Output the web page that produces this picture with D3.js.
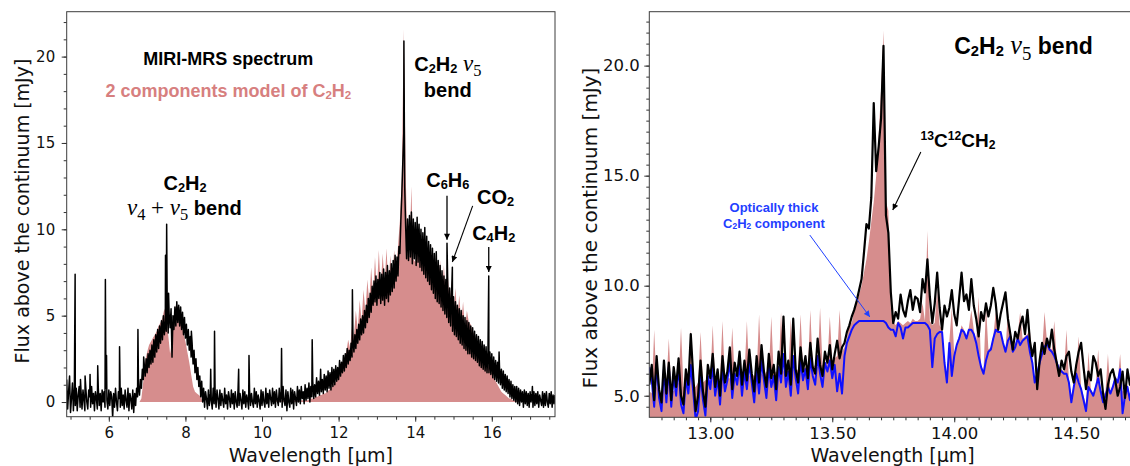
<!DOCTYPE html>
<html>
<head>
<meta charset="utf-8">
<script src="https://cdn.jsdelivr.net/npm/d3@7"></script>
<style>
	html, body { margin: 0; padding: 0; background: #fff; }
	svg { display: block; }
	text { white-space: pre; }
</style>
</head>
<body>
<div id="chart"></div>
<script>
/* global d3 */

// Full MIRI-MRS range: observed flux on a regular grid (start + step), mJy
const obsStart = 4.9;
const obsStep = 0.025;
const fullObserved = [
	1.3, -0.4, 0.6, 1.5, -0.6, 0.2, 1.1, -0.5, 0.9, -0.2,
	0.8, -0.5, 0.4, 0.9, -0.3, 0.6, -0.4, 0.7, 0.1, -0.5,
	0.8, 0.0, -0.4, 0.7, 0.3, -0.3, 0.9, -0.1, 0.5, -0.5,
	0.6, 0.2, -0.4, 0.8, -0.2, 0.5, -0.5, 0.7, 0.0, 0.6,
	-0.3, 0.8, 0.1, -0.4, 0.7, -0.2, 0.6, 0.3, -0.9, 0.5,
	-0.3, 0.8, 0.0, -0.5, 0.6, 0.2, -0.3, 0.8, -0.2, 0.4,
	-0.4, 0.7, 0.1, -0.3, 0.8, -0.5, 0.5, 0.2, -0.4, 0.7,
	-0.6, 0.5, -0.2, 0.8, 0.3, 0.9, 0.4, 1.3, 0.8, 1.9,
	1.3, 2.2, 1.5, 2.5, 1.7, 2.8, 2.0, 3.0, 2.2, 3.3,
	2.3, 3.6, 2.6, 3.9, 2.9, 4.2, 3.1, 4.4, 3.4, 4.7,
	3.6, 5.0, 3.9, 4.7, 4.1, 5.3, 4.0, 5.1, 4.3, 5.4,
	2.6, 5.0, 4.2, 5.5, 4.4, 5.8, 4.6, 5.6, 4.4, 5.5,
	4.2, 5.2, 3.9, 4.9, 3.7, 4.5, 3.3, 4.2, 3.0, 3.8,
	2.6, 3.4, 2.2, 3.0, 1.7, 2.5, 1.3, 2.0, 0.9, 1.5,
	0.3, 1.2, 0.0, 0.8, -0.3, 0.6, 0.2, -0.4, 0.7, -0.2,
	0.5, 0.1, -0.4, 0.8, -0.1, 0.6, -0.3, 0.7, 0.2, -0.4,
	0.7, -0.2, 0.5, 0.1, -0.3, 0.8, -0.1, 0.4, -0.4, 0.6,
	0.2, -0.3, 0.7, -0.1, 0.5, -0.4, 0.6, 0.0, -0.3, 0.8,
	-0.2, 0.5, 0.1, -0.4, 0.7, -0.1, 0.6, -0.3, 0.4, 0.1,
	-0.4, 0.7, -0.2, 0.5, 0.0, -0.3, 0.8, -0.1, 0.6, -0.3,
	0.4, 0.1, -0.4, 0.7, -0.2, 0.6, 0.0, -0.3, 0.8, -0.1,
	0.5, -0.3, 0.7, 0.2, -0.2, 0.8, -0.1, 0.6, -0.3, 0.7,
	0.1, -0.2, 0.8, 0.0, 0.6, -0.3, 0.9, 0.1, -0.2, 0.7,
	-0.5, 0.6, 0.0, -0.3, 0.8, -0.1, 0.7, -0.4, 0.6, 0.2,
	-0.2, 0.9, 0.0, 0.7, -0.1, 0.9, 0.2, 0.6, -0.1, 1.0,
	0.1, 0.8, 0.2, 1.1, 0.0, 0.9, 0.3, 1.2, 0.2, 1.0,
	0.3, 1.4, 0.5, 1.2, 0.4, 1.5, 0.6, 1.3, 0.5, 1.6,
	0.7, 1.5, 0.6, 1.8, 0.8, 1.7, 0.7, 2.0, 0.9, 1.9,
	1.0, 2.1, 1.2, 2.0, 1.3, 2.4, 1.5, 2.3, 1.7, 2.7,
	1.8, 2.8, 2.0, 3.1, 2.2, 3.0, 2.4, 3.4, 2.6, 3.6,
	2.9, 3.9, 3.1, 4.2, 3.4, 4.5, 3.6, 4.8, 3.9, 5.0,
	4.0, 5.3, 4.3, 5.6, 4.6, 6.0, 4.9, 6.3, 5.2, 6.7,
	5.6, 7.0, 5.8, 7.3, 5.6, 7.1, 6.0, 7.5, 5.7, 7.4,
	5.9, 7.7, 5.6, 7.5, 6.0, 7.9, 5.8, 7.6, 6.2, 8.0,
	6.4, 8.2, 6.6, 8.5, 7.0, 8.4, 7.3, 9.0, 8.6, 10.5,
	12.0, 13.8, 15.5, 12.5, 10.2, 8.3, 10.6, 8.2, 10.8, 8.4,
	11.0, 8.0, 10.6, 8.3, 10.4, 7.9, 10.7, 8.1, 10.3, 7.8,
	10.0, 7.6, 9.8, 7.4, 10.1, 7.2, 9.6, 7.0, 9.3, 6.8,
	9.1, 6.5, 8.9, 6.3, 8.6, 6.0, 8.7, 5.8, 8.2, 5.7,
	7.9, 5.5, 7.6, 5.3, 7.3, 5.1, 7.1, 4.9, 6.8, 4.6,
	6.6, 4.4, 6.3, 4.1, 6.1, 3.9, 5.8, 3.8, 5.6, 3.6,
	5.4, 3.4, 5.3, 3.3, 5.0, 3.1, 4.9, 3.0, 4.7, 2.8,
	4.6, 2.8, 4.4, 2.6, 4.3, 2.5, 4.1, 2.4, 3.9, 2.3,
	3.8, 2.1, 3.6, 2.0, 3.5, 1.9, 3.3, 1.8, 3.2, 1.7,
	3.0, 1.7, 2.9, 1.6, 2.8, 1.4, 2.6, 1.3, 2.4, 1.2,
	2.3, 1.1, 2.1, 1.0, 1.9, 0.8, 1.8, 0.7, 1.6, 0.6,
	1.5, 0.5, 1.3, 0.3, 1.2, 0.2, 1.0, 0.1, 0.9, 0.0,
	0.9, -0.1, 0.8, -0.2, 0.7, 0.0, 0.6, -0.3, 0.7, -0.1,
	0.6, -0.2, 0.5, -0.3, 0.6, 0.0, 0.5, -0.3, 0.6, -0.2,
	0.5, -0.1, 0.6, -0.3, 0.4, 0.1, -0.2, 0.6, -0.3, 0.5,
	-0.2, 0.6, 0.0, -0.3, 0.5, -0.1, 0.6, -0.3, 0.4, -0.1,
	0.4,
];

// Full range: 2-component C2H2 model on a coarser grid, mJy
const modelStart = 4.9;
const modelStep = 0.05;
const fullModel = [
	0, 0, 0, 0, 0, 0, 0, 0, 0, 0,
	0, 0, 0, 0, 0, 0, 0, 0, 0, 0,
	0, 0, 0, 0, 0, 0, 0, 0, 0, 0,
	0, 0, 0, 0, 0, 0, 0, 0, 0, 0.2,
	1.2, 2.4, 2.9, 3.3, 3.5, 3.7, 3.9, 4.1, 4.4, 4.6,
	4.9, 5.4, 5.0, 3.9, 2.8, 3.5, 4.8, 5.6, 5.2, 4.9,
	4.5, 4.0, 3.5, 2.9, 2.3, 1.6, 0.9, 0.6, 0.5, 0.4,
	0.3, 0, 0, 0, 0, 0, 0, 0, 0, 0,
	0, 0, 0, 0, 0, 0, 0, 0, 0, 0,
	0, 0, 0, 0, 0, 0, 0, 0, 0, 0,
	0, 0, 0, 0, 0, 0, 0, 0, 0, 0,
	0.1, 0.1, 0.1, 0.1, 0.1, 0.1, 0.1, 0.1, 0.1, 0.1,
	0.1, 0.1, 0.1, 0.1, 0.1, 0.1, 0.1, 0.2, 0.2, 0.2,
	0.3, 0.3, 0.4, 0.4, 0.5, 0.5, 0.6, 0.7, 0.8, 1.0,
	1.1, 1.3, 1.6, 1.9, 2.2, 2.5, 2.9, 3.6, 3.1, 4.4,
	3.8, 5.3, 4.2, 5.9, 4.7, 6.5, 5.2, 7.1, 5.8, 7.8,
	6.2, 8.4, 6.5, 8.8, 6.6, 8.6, 6.8, 8.9, 6.7, 8.5,
	7.0, 8.8, 7.6, 9.0, 10.5, 13.0, 21.6, 13.4, 8.6, 8.4,
	12.5, 8.3, 8.1, 9.6, 8.0, 9.1, 7.9, 8.8, 7.7, 8.5,
	7.2, 9.0, 7.0, 8.5, 6.7, 8.2, 6.3, 7.9, 6.0, 7.5,
	5.6, 7.1, 5.2, 6.6, 4.9, 6.2, 4.6, 5.8, 4.3, 5.3,
	4.6, 4.5, 4.1, 3.9, 3.6, 3.4, 3.1, 2.9, 2.6, 2.4,
	2.2, 1.9, 1.7, 1.4, 1.2, 1.0, 0.8, 0.6, 0.5, 0.4,
	0.3, 0.2, 0.2, 0.1, 0.1, 0.1, 0.05, 0, 0, 0,
	0, 0, 0, 0, 0, 0, 0, 0, 0, 0,
	0, 0, 0, 0, 0, 0,
];

// Narrow emission lines on top of the full spectrum
const lineWaves = [
	5.12, 5.26, 5.38, 5.51, 5.71, 5.91, 5.94, 6.28, 6.76, 6.91,
	7.48, 7.51, 7.56, 8.155, 8.66, 8.76, 9.39, 9.66, 10.51, 11.31,
	11.53, 12.36, 13.705, 14.83, 14.97, 15.92, 16.19, 17.06,
];
const linePeaks = [
	7.4, 1.3, 1.5, 1.6, 2.1, 7.1, 2.7, 3.2, 4.2, 2.6,
	8.5, 10.3, 6.3, 4.1, 1.9, 4.1, 1.9, 2.7, 3.1, 3.6,
	1.9, 6.5, 20.9, 9.2, 7.8, 7.3, 2.9, 0.9,
];

// Zoom on the C2H2 nu5 band
const zoomStart = 12.75;
const zoomStep = 0.01;
const zoomObserved = [
	5.5, 6.4, 4.8, 6.8, 5.3, 4.7, 6.6, 5.1, 6.5, 4.8,
	6.3, 5.4, 6.7, 5.0, 4.6, 6.2, 5.5, 7.8, 5.9, 4.3,
	5.0, 6.6, 5.2, 4.5, 6.4, 5.8, 6.9, 5.4, 6.2, 5.0,
	6.8, 5.6, 6.1, 7.2, 5.3, 6.5, 5.9, 7.0, 5.5, 6.6,
	5.7, 7.1, 6.0, 5.2, 6.8, 5.6, 7.3, 6.1, 5.4, 6.9,
	5.8, 6.4, 5.3, 7.0, 6.0, 8.6, 5.9, 6.6, 5.5, 8.5,
	6.2, 5.6, 7.2, 6.1, 6.8, 5.8, 7.4, 6.3, 6.0, 7.6,
	6.4, 5.9, 7.0, 6.5, 7.3, 6.2, 6.9, 7.5, 6.7, 7.2,
	7.4, 7.9, 8.2, 8.6, 8.9, 9.3, 9.8, 10.3, 11.5, 12.8,
	12.6, 14.0, 18.3, 15.2, 16.3, 17.6, 20.9, 13.2, 12.4, 9.7,
	8.3, 8.8, 8.5, 9.6, 8.9, 8.6, 9.3, 9.8, 8.9, 9.5,
	9.4, 8.8, 10.3, 9.7, 11.2, 9.5, 8.3, 9.2, 10.6, 9.0,
	8.0, 9.1, 8.6, 9.0, 9.8, 8.7, 8.2, 9.4, 10.6, 9.3,
	9.6, 8.9, 10.3, 9.1, 8.5, 7.7, 8.8, 8.4, 9.2, 8.6,
	9.1, 9.9, 9.2, 8.0, 8.7, 9.2, 9.7, 8.5, 7.8, 7.1,
	7.9, 7.6, 8.2, 8.6, 7.8, 8.9, 7.5, 6.8, 7.4, 5.3,
	6.6, 7.4, 6.9, 7.6, 7.2, 8.0, 7.1, 6.5, 5.9, 6.6,
	6.2, 6.8, 7.0, 6.1, 5.6, 6.4, 7.0, 7.4, 6.3, 5.3,
	6.1, 5.7, 6.8, 6.5, 5.9, 6.2, 5.1, 4.4, 5.5, 6.0,
	6.2, 5.7, 5.0, 5.4, 6.1, 4.9, 6.2, 5.5, 6.0, 5.2,
];
const zoomThick = [
	6.3, 5.7, 4.5, 6.5, 4.9, 4.3, 6.2, 4.7, 6.3, 4.5,
	5.9, 5.0, 6.4, 4.6, 4.2, 5.8, 5.1, 6.4, 5.2, 3.9,
	4.3, 6.0, 4.8, 4.1, 5.9, 5.3, 6.4, 5.0, 5.8, 4.6,
	6.3, 5.2, 5.7, 6.6, 4.9, 6.0, 5.5, 6.4, 5.0, 6.1,
	5.3, 6.5, 5.6, 4.7, 6.2, 5.1, 6.6, 5.7, 4.9, 6.3,
	5.4, 5.9, 4.8, 6.3, 5.6, 6.9, 5.4, 6.1, 5.0, 6.8,
	5.8, 5.1, 6.6, 5.7, 6.2, 5.3, 6.7, 5.9, 5.5, 6.8,
	6.0, 5.4, 6.5, 6.1, 6.6, 5.8, 6.4, 5.2, 6.0, 5.1,
	6.8, 7.4, 7.7, 8.0, 8.2, 8.3, 8.4, 8.4, 8.4, 8.4,
	8.4, 8.4, 8.4, 8.4, 8.4, 8.4, 8.4, 8.3, 8.1, 8.0,
	8.0, 7.7, 8.3, 8.1, 7.6, 8.1, 8.1, 8.2, 8.3, 8.3,
	8.3, 8.3, 8.3, 8.3, 8.2, 8.0, 6.3, 7.6, 7.8, 7.9,
	7.9, 6.5, 5.6, 7.4, 5.9, 6.8, 7.3, 7.6, 8.0, 7.9,
	7.6, 8.0, 8.0, 7.8, 7.4, 6.8, 6.3, 6.0, 6.6, 7.0,
	7.1, 7.6, 8.0, 7.9, 7.9, 7.4, 7.0, 7.5, 7.7, 7.0,
	7.2, 7.6, 7.3, 7.5, 7.6, 7.7, 7.0, 6.5, 5.6, 6.0,
	6.5, 6.9, 7.2, 7.4, 7.1, 7.0, 6.8, 6.5, 6.2, 6.1,
	6.0, 6.0, 5.6, 4.7, 5.4, 6.0, 5.6, 5.3, 4.8, 4.3,
	5.4, 5.2, 5.0, 5.4, 5.8, 5.2, 4.7, 5.0, 5.4, 5.1,
	5.4, 5.8, 5.6, 6.2, 4.2, 5.0, 5.4, 4.8, 5.6, 5.0,
];
const zoomModel = [
	5.2, 5.1, 8.0, 5.4, 5.2, 5.1, 5.3, 5.5, 7.6, 5.3,
	5.2, 5.4, 5.6, 8.1, 5.4, 5.5, 5.6, 8.0, 5.5, 5.4,
	5.6, 7.9, 5.6, 5.7, 5.8, 5.7, 8.2, 5.6, 5.7, 5.8,
	8.4, 5.7, 5.8, 5.8, 8.1, 5.9, 5.8, 5.9, 5.8, 5.9,
	8.4, 5.9, 6.0, 5.9, 6.0, 8.7, 6.0, 5.9, 6.1, 6.0,
	8.6, 6.0, 6.1, 6.0, 8.8, 6.1, 6.2, 6.1, 8.5, 6.2,
	6.1, 6.2, 8.7, 6.2, 6.3, 6.2, 8.9, 6.3, 6.4, 6.3,
	9.0, 6.4, 6.5, 6.5, 8.6, 6.6, 6.7, 6.8, 8.9, 7.0,
	7.2, 7.6, 8.4, 8.3, 8.9, 9.2, 9.6, 10.0, 10.6, 11.2,
	12.0, 12.9, 13.8, 15.0, 16.8, 18.9, 21.6, 13.8, 13.4, 9.0,
	8.4, 8.2, 8.4, 8.3, 8.2, 8.3, 8.4, 8.3, 8.5, 8.4,
	8.4, 8.5, 9.2, 8.4, 12.5, 8.4, 8.2, 8.3, 9.8, 8.2,
	8.0, 6.6, 5.7, 7.5, 9.0, 6.9, 7.4, 7.7, 8.2, 8.0,
	7.7, 8.1, 8.9, 8.0, 7.5, 9.5, 6.4, 6.1, 9.1, 7.1,
	7.2, 7.7, 8.8, 8.0, 7.9, 7.5, 7.1, 8.8, 7.8, 7.1,
	7.4, 7.7, 8.8, 7.6, 7.7, 7.8, 8.0, 6.6, 5.8, 6.1,
	6.6, 7.0, 8.8, 7.5, 7.2, 7.1, 8.4, 6.6, 6.3, 6.2,
	6.1, 8.0, 5.7, 5.0, 5.5, 6.1, 7.7, 5.4, 5.0, 4.6,
	7.0, 5.3, 5.1, 5.5, 7.1, 5.3, 5.0, 5.2, 6.9, 5.2,
	5.5, 5.9, 5.7, 6.9, 5.2, 5.2, 5.5, 5.0, 6.9, 5.1,
];

// Tick labels
const leftXTicks = [ 6, 8, 10, 12, 14, 16 ];
const leftYTicks = [ 0, 5, 10, 15, 20 ];
const rightXTicks = [ 13, 13.5, 14, 14.5 ];
const rightYTicks = [ 5, 10, 15, 20 ];

const SANS = "'Liberation Sans', Arial, Helvetica, sans-serif";
const SERIF = "'Liberation Serif', 'Times New Roman', serif";
const AXIS_FONT = "'DejaVu Sans', sans-serif";
const MODEL_FILL = '#d68d8d';
const MODEL_TEXT = '#d77f7f';
const THICK_BLUE = '#1010ff';
const THICK_TEXT = '#1f40ff';

const svg = d3
	.select( '#chart' )
	.append( 'svg' )
	.attr( 'width', 1130 )
	.attr( 'height', 466 );

const defs = svg.append( 'defs' );

// Arrow heads for the annotations
function addMarker( id, color ) {
	defs
		.append( 'marker' )
		.attr( 'id', id )
		.attr( 'viewBox', '0 0 10 10' )
		.attr( 'refX', 10 )
		.attr( 'refY', 5 )
		.attr( 'markerWidth', 7 )
		.attr( 'markerHeight', 6 )
		.attr( 'markerUnits', 'userSpaceOnUse' )
		.attr( 'orient', 'auto' )
		.append( 'path' )
		.attr( 'd', 'M0,0 L10,5 L0,10 Z' )
		.attr( 'fill', color );
}
addMarker( 'head-black', '#000' );
addMarker( 'head-blue', THICK_TEXT );

// Turn a regular grid into {w, f} points
function gridPoints( start, step, values ) {
	return values.map( ( f, i ) => ( { w: start + i * step, f } ) );
}

function makePanel( cfg ) {
	const x = d3.scaleLinear().domain( cfg.xDomain ).range( cfg.xRange );
	const y = d3.scaleLinear().domain( cfg.yDomain ).range( cfg.yRange );
	const g = svg.append( 'g' );

	defs
		.append( 'clipPath' )
		.attr( 'id', `${ cfg.id }-clip` )
		.append( 'rect' )
		.attr( 'x', cfg.xRange[ 0 ] )
		.attr( 'y', cfg.yRange[ 1 ] )
		.attr( 'width', cfg.xRange[ 1 ] - cfg.xRange[ 0 ] )
		.attr( 'height', cfg.yRange[ 0 ] - cfg.yRange[ 1 ] );

	const plot = g.append( 'g' ).attr( 'clip-path', `url(#${ cfg.id }-clip)` );
	return { x, y, g, plot };
}

function drawAxes( panel, opts ) {
	const { x, y, g } = panel;
	const [ x0, x1 ] = x.range();
	const [ yb, yt ] = y.range();
	const noLabel = () => '';
	const clean = ( sel ) => sel.select( '.domain' ).remove();

	// Minor ticks
	g.append( 'g' )
		.attr( 'transform', `translate(0,${ yb })` )
		.call( d3.axisBottom( x ).tickValues( opts.xMinor ).tickSize( 3 ).tickFormat( noLabel ) )
		.call( clean );
	g.append( 'g' )
		.attr( 'transform', `translate(${ x0 },0)` )
		.call( d3.axisLeft( y ).tickValues( opts.yMinor ).tickSize( 3 ).tickFormat( noLabel ) )
		.call( clean );

	// Major ticks with labels
	const xAxis = g.append( 'g' )
		.attr( 'transform', `translate(0,${ yb })` )
		.call( d3.axisBottom( x ).tickValues( opts.xTicks ).tickSize( 5 ).tickPadding( opts.xPad ).tickFormat( opts.xFormat ) )
		.call( clean );
	const yAxis = g.append( 'g' )
		.attr( 'transform', `translate(${ x0 },0)` )
		.call( d3.axisLeft( y ).tickValues( opts.yTicks ).tickSize( 5 ).tickPadding( opts.yPad ).tickFormat( opts.yFormat ) )
		.call( clean );

	[ xAxis, yAxis ].forEach( ( a ) => {
		a.attr( 'font-family', AXIS_FONT ).attr( 'font-size', opts.tickSize );
		a.selectAll( 'text' ).attr( 'fill', '#111' );
	} );
	g.selectAll( '.tick line' ).attr( 'stroke', '#333' );

	// Frame
	g.append( 'rect' )
		.attr( 'x', x0 )
		.attr( 'y', yt )
		.attr( 'width', x1 - x0 )
		.attr( 'height', yb - yt )
		.attr( 'fill', 'none' )
		.attr( 'stroke', '#3c3c3c' )
		.attr( 'stroke-width', 1 );

	// Axis titles
	g.append( 'text' )
		.attr( 'x', opts.xLabelX )
		.attr( 'y', opts.xLabelY )
		.attr( 'text-anchor', 'middle' )
		.attr( 'font-family', AXIS_FONT )
		.attr( 'font-size', opts.labelSize )
		.attr( 'fill', '#111' )
		.text( 'Wavelength [μm]' );
	g.append( 'text' )
		.attr( 'transform', `translate(${ opts.yLabelX },${ opts.yLabelY }) rotate(-90)` )
		.attr( 'text-anchor', 'middle' )
		.attr( 'font-family', AXIS_FONT )
		.attr( 'font-size', opts.yLabelSize || opts.labelSize )
		.attr( 'fill', '#111' )
		.text( 'Flux above the continuum [mJy]' );
}

// Mixed text: bold sans, chemical sub/superscripts, math nu
function richText( parent, px, py, opts, segments ) {
	const size = opts.size;
	const text = parent
		.append( 'text' )
		.attr( 'x', px )
		.attr( 'y', py )
		.attr( 'text-anchor', opts.anchor || 'middle' )
		.attr( 'fill', opts.color || '#000' )
		.attr( 'font-family', SANS )
		.attr( 'font-weight', 'bold' )
		.attr( 'font-size', size );
	let offset = 0;
	segments.forEach( ( seg ) => {
		const s = typeof seg === 'string' ? { t: seg } : seg;
		let shift = 0;
		let fs = size;
		if ( s.sub ) {
			shift = 0.1 * size;
			fs = 0.64 * size;
		}
		if ( s.sup ) {
			shift = -0.36 * size;
			fs = 0.64 * size;
		}
		if ( s.math || s.op ) {
			fs = 1.15 * size;
		}
		if ( s.msub ) {
			shift = 0.25 * size;
			fs = 0.82 * size;
		}
		const span = text
			.append( 'tspan' )
			.attr( 'dy', shift - offset )
			.attr( 'font-size', fs )
			.text( s.t );
		offset = shift;
		if ( s.math || s.msub || s.op ) {
			span.attr( 'font-family', SERIF ).attr( 'font-weight', 'normal' );
		}
		if ( s.math ) {
			span.attr( 'font-style', 'italic' );
		}
	} );
	return text;
}

function arrow( panel, from, to, marker, color, width ) {
	panel.g
		.append( 'line' )
		.attr( 'x1', panel.x( from[ 0 ] ) )
		.attr( 'y1', panel.y( from[ 1 ] ) )
		.attr( 'x2', panel.x( to[ 0 ] ) )
		.attr( 'y2', panel.y( to[ 1 ] ) )
		.attr( 'stroke', color )
		.attr( 'stroke-width', width )
		.attr( 'marker-end', `url(#${ marker })` );
}

/* ---------- Left panel: full spectrum ---------- */
const left = makePanel( {
	id: 'full',
	xDomain: [ 4.9, 17.65 ],
	yDomain: [ -0.85, 22.6 ],
	xRange: [ 66.7, 555 ],
	yRange: [ 416.7, 11.7 ],
} );

const fullModelPts = gridPoints( modelStart, modelStep, fullModel );
const fullObsPts = gridPoints( obsStart, obsStep, fullObserved )
	.concat( lineWaves.map( ( w, i ) => ( { w, f: linePeaks[ i ] } ) ) )
	.sort( ( a, b ) => a.w - b.w );

left.plot
	.append( 'path' )
	.datum( fullModelPts )
	.attr( 'fill', MODEL_FILL )
	.attr( 'd', d3.area().x( ( d ) => left.x( d.w ) ).y0( left.y( 0 ) ).y1( ( d ) => left.y( d.f ) ) );

left.plot
	.append( 'path' )
	.datum( fullObsPts )
	.attr( 'fill', 'none' )
	.attr( 'stroke', '#000' )
	.attr( 'stroke-width', 1.5 )
	.attr( 'stroke-linejoin', 'round' )
	.attr( 'd', d3.line().x( ( d ) => left.x( d.w ) ).y( ( d ) => left.y( d.f ) ) );

drawAxes( left, {
	xTicks: leftXTicks,
	yTicks: leftYTicks,
	xMinor: d3.range( 5, 17.6, 0.5 ),
	yMinor: d3.range( 0, 22.5, 1 ),
	xFormat: d3.format( 'd' ),
	yFormat: d3.format( 'd' ),
	xPad: 6,
	yPad: 6.5,
	tickSize: 15,
	labelSize: 19,
	xLabelX: 310.8,
	xLabelY: 461.5,
	yLabelX: 28.5,
	yLabelY: 211,
} );

// Left annotations (data coordinates)
richText( left.g, left.x( 9.12 ), left.y( 19.52 ), { size: 18 }, [ 'MIRI-MRS spectrum' ] );
richText( left.g, left.x( 9.12 ), left.y( 17.67 ), { size: 18, color: MODEL_TEXT }, [
	'2 components model of C', { t: '2', sub: true }, 'H', { t: '2', sub: true },
] );
richText( left.g, left.x( 7.99 ), left.y( 12.28 ), { size: 20 }, [
	'C', { t: '2', sub: true }, 'H', { t: '2', sub: true },
] );
richText( left.g, left.x( 7.97 ), left.y( 10.83 ), { size: 20 }, [
	{ t: 'ν', math: true }, { t: '4', msub: true }, { t: ' + ', op: true },
	{ t: 'ν', math: true }, { t: '5', msub: true }, ' bend',
] );
richText( left.g, left.x( 14.85 ), left.y( 19.18 ), { size: 20 }, [
	'C', { t: '2', sub: true }, 'H', { t: '2', sub: true }, ' ',
	{ t: 'ν', math: true }, { t: '5', msub: true },
] );
richText( left.g, left.x( 14.85 ), left.y( 17.67 ), { size: 20 }, [ 'bend' ] );
richText( left.g, left.x( 14.85 ), left.y( 12.46 ), { size: 20 }, [
	'C', { t: '6', sub: true }, 'H', { t: '6', sub: true },
] );
richText( left.g, left.x( 16.1 ), left.y( 11.47 ), { size: 20 }, [ 'CO', { t: '2', sub: true } ] );
richText( left.g, left.x( 16.05 ), left.y( 9.39 ), { size: 20 }, [
	'C', { t: '4', sub: true }, 'H', { t: '2', sub: true },
] );
arrow( left, [ 14.83, 11.94 ], [ 14.83, 9.39 ], 'head-black', '#000', 1.3 );
arrow( left, [ 15.5, 11.36 ], [ 14.97, 8.11 ], 'head-black', '#000', 1.1 );
arrow( left, [ 15.92, 8.98 ], [ 15.92, 7.53 ], 'head-black', '#000', 1.3 );

/* ---------- Right panel: zoom on the nu5 band ---------- */
const right = makePanel( {
	id: 'zoom',
	xDomain: [ 12.75, 14.745 ],
	yDomain: [ 4.02, 22.45 ],
	xRange: [ 649.3, 1136 ],
	yRange: [ 417.3, 11.7 ],
} );

const zoomModelPts = gridPoints( zoomStart, zoomStep, zoomModel );
const zoomThickPts = gridPoints( zoomStart, zoomStep, zoomThick );
const zoomObsPts = gridPoints( zoomStart, zoomStep, zoomObserved );

const zLine = d3.line().x( ( d ) => right.x( d.w ) ).y( ( d ) => right.y( d.f ) );

right.plot
	.append( 'path' )
	.datum( zoomModelPts )
	.attr( 'fill', MODEL_FILL )
	.attr( 'd', d3.area().x( ( d ) => right.x( d.w ) ).y0( right.y( 0 ) ).y1( ( d ) => right.y( d.f ) ) );

right.plot
	.append( 'path' )
	.datum( zoomThickPts )
	.attr( 'fill', 'none' )
	.attr( 'stroke', THICK_BLUE )
	.attr( 'stroke-width', 2 )
	.attr( 'stroke-linejoin', 'round' )
	.attr( 'd', zLine );

right.plot
	.append( 'path' )
	.datum( zoomObsPts )
	.attr( 'fill', 'none' )
	.attr( 'stroke', '#000' )
	.attr( 'stroke-width', 2.2 )
	.attr( 'stroke-linejoin', 'round' )
	.attr( 'd', zLine );

drawAxes( right, {
	xTicks: rightXTicks,
	yTicks: rightYTicks,
	xMinor: d3.range( 12.8, 14.74, 0.05 ),
	yMinor: d3.range( 4.5, 22.3, 0.5 ),
	xFormat: d3.format( '.2f' ),
	yFormat: d3.format( '.1f' ),
	xPad: 5,
	yPad: 4.5,
	tickSize: 16.5,
	labelSize: 19,
	yLabelSize: 20,
	xLabelX: 892.6,
	xLabelY: 461.5,
	yLabelX: 596.5,
	yLabelY: 228,
} );

// Right annotations (data coordinates)
richText( right.g, right.x( 14.0 ), right.y( 20.53 ), { size: 23, anchor: 'start' }, [
	'C', { t: '2', sub: true }, 'H', { t: '2', sub: true }, ' ',
	{ t: 'ν', math: true }, { t: '5', msub: true }, ' bend',
] );
richText( right.g, right.x( 14.015 ), right.y( 16.3 ), { size: 19 }, [
	{ t: '13', sup: true }, 'C', { t: '12', sup: true }, 'CH', { t: '2', sub: true },
] );
arrow( right, [ 13.863, 16.08 ], [ 13.748, 13.44 ], 'head-black', '#000', 1.1 );

richText( right.g, right.x( 13.261 ), right.y( 13.35 ), { size: 13, color: THICK_TEXT }, [ 'Optically thick' ] );
richText( right.g, right.x( 13.261 ), right.y( 12.62 ), { size: 13, color: THICK_TEXT }, [
	'C', { t: '2', sub: true }, 'H', { t: '2', sub: true }, ' component',
] );
arrow( right, [ 13.408, 12.3 ], [ 13.654, 8.58 ], 'head-blue', THICK_TEXT, 1 );
</script>
</body>
</html>
